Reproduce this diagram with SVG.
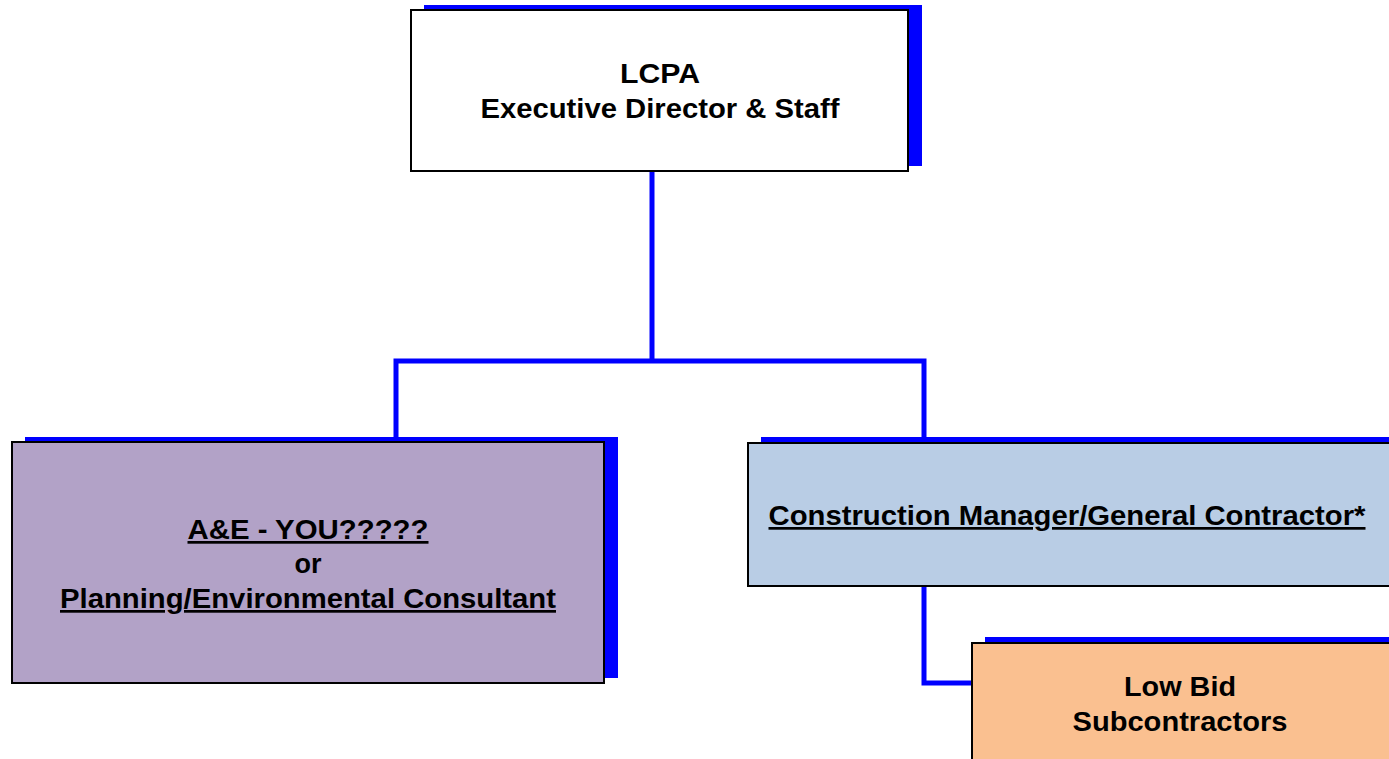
<svg xmlns="http://www.w3.org/2000/svg" width="1389" height="759" viewBox="0 0 1389 759">
<style>
.shadow{fill:#0000FF;}
.box{stroke:#000;stroke-width:2;}
.t{font-family:"Liberation Sans",Arial,sans-serif;font-weight:bold;font-size:27px;fill:#000;text-anchor:middle;}
.u{text-decoration:underline;}
.conn{fill:none;stroke:#0000FF;stroke-width:5;stroke-linejoin:miter;}
</style>
<rect width="1389" height="759" fill="#fff"/>
<g id="connectors">
<path class="conn" d="M652 171 V361 M396 441 V361 H924 V441 M924 586 V683 H972"/>
</g>
<g id="node-lcpa">
<rect class="shadow" x="424" y="5" width="498" height="161"/>
<rect class="box" x="411" y="10" width="497" height="161" fill="#fff"/>
<text class="t" x="660" y="83" textLength="80" lengthAdjust="spacingAndGlyphs">LCPA</text>
<text class="t" x="660" y="118" textLength="359" lengthAdjust="spacingAndGlyphs">Executive Director &amp; Staff</text>
</g>
<g id="node-ae">
<rect class="shadow" x="25" y="437" width="593" height="241"/>
<rect class="box" x="12" y="442" width="592" height="241" fill="#B2A2C7"/>
<text class="t u" x="308" y="539" textLength="241" lengthAdjust="spacingAndGlyphs">A&amp;E - YOU?????</text>
<text class="t" x="308" y="573" textLength="27" lengthAdjust="spacingAndGlyphs">or</text>
<text class="t u" x="308" y="608" textLength="496" lengthAdjust="spacingAndGlyphs">Planning/Environmental Consultant</text>
</g>
<g id="node-cm">
<rect class="shadow" x="761" y="437" width="640" height="143"/>
<rect class="box" x="748" y="443" width="650" height="143" fill="#B9CDE5"/>
<text class="t u" x="1067" y="525" textLength="597" lengthAdjust="spacingAndGlyphs">Construction Manager/General Contractor*</text>
</g>
<g id="node-sub">
<rect class="shadow" x="985" y="637" width="420" height="130"/>
<rect class="box" x="972" y="643" width="430" height="130" fill="#FAC090"/>
<text class="t" x="1180" y="696" textLength="112" lengthAdjust="spacingAndGlyphs">Low Bid</text>
<text class="t" x="1180" y="731" textLength="215" lengthAdjust="spacingAndGlyphs">Subcontractors</text>
</g>
</svg>
